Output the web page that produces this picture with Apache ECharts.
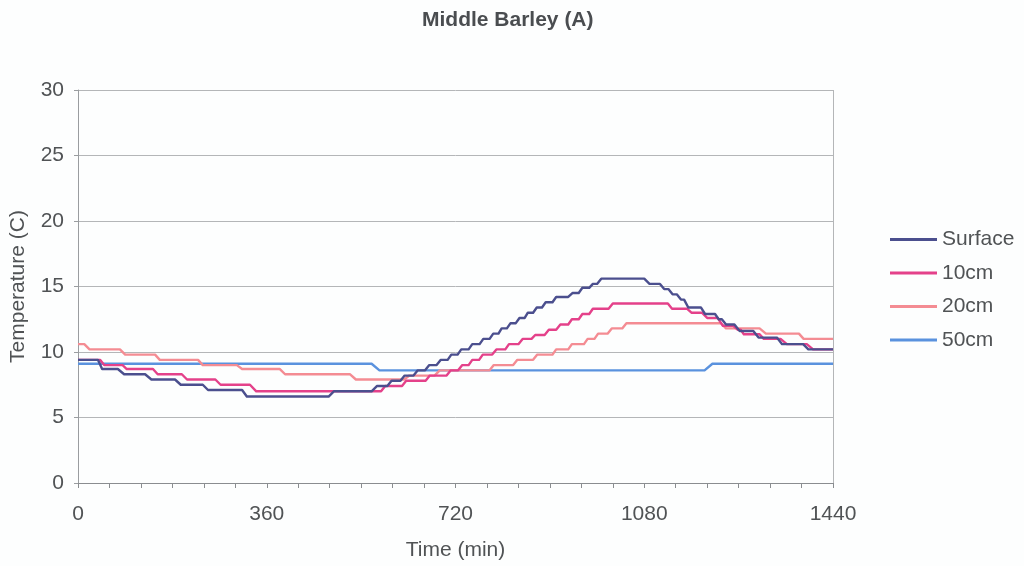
<!DOCTYPE html>
<html>
<head>
<meta charset="utf-8">
<title>Middle Barley (A)</title>
<script src="https://cdn.jsdelivr.net/npm/echarts@6/dist/echarts.min.js"></script>
<style>
  html, body { margin: 0; padding: 0; background: #fdfefe; }
  #chart { width: 1024px; height: 566px; }
</style>
</head>
<body>
<div id="chart"></div>
<script>
// Soil temperature logger readings over one day: [minute, temperature °C].
// Readings are quantised by the logger, so each series is a staircase.
const seriesNames = ['Surface', '10cm', '20cm', '50cm'];

const surfaceReadings = [
  [0, 9.4], [38, 9.4], [46, 8.7], [76, 8.7], [88, 8.3], [128, 8.3], [140, 7.9], [185, 7.9],
  [196, 7.5], [238, 7.5], [248, 7.1], [313, 7.1], [322, 6.6], [478, 6.6], [488, 7.0], [560, 7.0],
  [570, 7.4], [590, 7.4], [598, 7.8], [615, 7.8], [623, 8.2], [640, 8.2], [648, 8.6], [662, 8.6],
  [670, 9.0], [684, 9.0], [692, 9.4], [705, 9.4], [712, 9.8], [724, 9.8], [731, 10.2], [745, 10.2],
  [752, 10.6], [766, 10.6], [773, 11.0], [785, 11.0], [792, 11.4], [802, 11.4], [808, 11.8], [818, 11.8],
  [825, 12.2], [835, 12.2], [842, 12.6], [852, 12.6], [858, 13.0], [868, 13.0], [875, 13.4], [885, 13.4],
  [892, 13.8], [905, 13.8], [912, 14.2], [935, 14.2], [943, 14.5], [955, 14.5], [962, 14.9], [975, 14.9],
  [982, 15.2], [990, 15.2], [998, 15.6], [1080, 15.6], [1090, 15.2], [1110, 15.2], [1118, 14.8], [1126, 14.8],
  [1134, 14.4], [1142, 14.4], [1150, 14.0], [1156, 14.0], [1164, 13.4], [1188, 13.4], [1196, 12.9], [1215, 12.9],
  [1222, 12.5], [1228, 12.5], [1236, 12.1], [1252, 12.1], [1262, 11.6], [1288, 11.6], [1298, 11.1], [1333, 11.1],
  [1343, 10.6], [1383, 10.6], [1393, 10.2], [1440, 10.2]
];

const cm10Readings = [
  [0, 9.4], [42, 9.4], [50, 9.0], [85, 9.0], [93, 8.7], [143, 8.7], [152, 8.3], [198, 8.3],
  [208, 7.9], [262, 7.9], [272, 7.5], [328, 7.5], [340, 7.0], [578, 7.0], [586, 7.4], [618, 7.4],
  [626, 7.8], [663, 7.8], [671, 8.2], [703, 8.2], [711, 8.6], [725, 8.6], [733, 9.0], [745, 9.0],
  [752, 9.4], [765, 9.4], [772, 9.8], [790, 9.8], [798, 10.2], [815, 10.2], [822, 10.6], [840, 10.6],
  [848, 11.0], [865, 11.0], [872, 11.3], [890, 11.3], [898, 11.7], [912, 11.7], [920, 12.1], [935, 12.1],
  [942, 12.5], [955, 12.5], [962, 12.9], [975, 12.9], [982, 13.3], [1012, 13.3], [1020, 13.7], [1125, 13.7],
  [1133, 13.3], [1162, 13.3], [1170, 13.0], [1190, 13.0], [1200, 12.6], [1220, 12.6], [1230, 12.0], [1250, 12.0],
  [1258, 11.7], [1264, 11.7], [1270, 11.35], [1300, 11.35], [1308, 11.0], [1340, 11.0], [1352, 10.6], [1390, 10.6],
  [1402, 10.2], [1440, 10.2]
];

const cm20Readings = [
  [0, 10.6], [12, 10.6], [22, 10.2], [80, 10.2], [90, 9.8], [147, 9.8], [156, 9.4], [229, 9.4],
  [238, 9.0], [303, 9.0], [313, 8.7], [385, 8.7], [395, 8.3], [519, 8.3], [530, 7.9], [622, 7.9],
  [632, 8.2], [680, 8.2], [690, 8.6], [785, 8.6], [793, 9.0], [830, 9.0], [838, 9.4], [868, 9.4],
  [876, 9.8], [905, 9.8], [912, 10.2], [935, 10.2], [942, 10.6], [965, 10.6], [972, 11.0], [985, 11.0],
  [992, 11.4], [1010, 11.4], [1018, 11.8], [1038, 11.8], [1046, 12.2], [1226, 12.2], [1236, 11.8], [1300, 11.8],
  [1312, 11.4], [1375, 11.4], [1384, 11.0], [1440, 11.0]
];

const cm50Readings = [
  [0, 9.1], [560, 9.1], [575, 8.6], [1195, 8.6], [1210, 9.1], [1440, 9.1]
];

const seriesColors = ['#4b4f8e', '#e4418a', '#f48c93', '#5a92de'];
const xTicks = [0, 360, 720, 1080, 1440];
const yTicks = [0, 5, 10, 15, 20, 25, 30];

const chart = echarts.init(document.getElementById('chart'), null, { renderer: 'canvas' });

const baseFont = 'Liberation Sans, Arial, sans-serif';
const textGrey = '#505355';

chart.setOption({
  backgroundColor: '#fdfefe',
  animation: false,
  title: {
    text: 'Middle Barley (A)',
    left: 422,
    top: 10,
    padding: 0,
    textStyle: { fontFamily: baseFont, fontSize: 21, fontWeight: 'bold', color: '#4a4d50' }
  },
  grid: { left: 78, right: 191, top: 90, bottom: 82, show: false },
  legend: {
    orient: 'vertical',
    left: 890,
    top: 229,
    padding: 0,
    itemWidth: 47,
    itemHeight: 3,
    itemGap: 12.5,
    icon: 'rect',
    data: seriesNames,
    textStyle: { fontFamily: baseFont, fontSize: 21, color: textGrey, lineHeight: 21 }
  },
  xAxis: {
    type: 'value',
    min: xTicks[0],
    max: xTicks[xTicks.length - 1],
    interval: xTicks[1] - xTicks[0],
    name: 'Time (min)',
    nameLocation: 'middle',
    nameGap: 57,
    nameTextStyle: { fontFamily: baseFont, fontSize: 21, color: textGrey },
    axisLine: { show: true, lineStyle: { color: '#8a8d90', width: 1 } },
    axisTick: { show: true, length: 5, lineStyle: { color: '#8a8d90' } },
    minorTick: { show: true, splitNumber: 6, length: 5, lineStyle: { color: '#8a8d90' } },
    axisLabel: {
      fontFamily: baseFont, fontSize: 21, color: textGrey, margin: 21,
      formatter: v => String(v)
    },
    splitLine: { show: false }
  },
  yAxis: {
    type: 'value',
    min: yTicks[0],
    max: yTicks[yTicks.length - 1],
    interval: yTicks[1] - yTicks[0],
    name: 'Temperature (C)',
    nameLocation: 'middle',
    nameGap: 49,
    nameTextStyle: { fontFamily: baseFont, fontSize: 21, color: textGrey },
    axisLine: { show: true, lineStyle: { color: '#9a9da0', width: 1 } },
    axisTick: { show: true, length: 4, lineStyle: { color: '#9a9da0' } },
    axisLabel: { fontFamily: baseFont, fontSize: 21, color: textGrey, margin: 14 },
    splitLine: { show: true, lineStyle: { color: '#b4b6b8', width: 1 } }
  },
  series: [
    // right-hand border of the plot area
    {
      type: 'line', silent: true, symbol: 'none', data: [],
      markLine: {
        silent: true, symbol: 'none', label: { show: false },
        lineStyle: { color: '#b4b6b8', type: 'solid', width: 1 },
        data: [{ xAxis: xTicks[xTicks.length - 1] }]
      }
    },
    ...[surfaceReadings, cm10Readings, cm20Readings, cm50Readings].map((d, i) => ({
      name: seriesNames[i],
      type: 'line',
      data: d,
      symbol: 'none',
      z: 10 - i,
      color: seriesColors[i],
      lineStyle: { width: 2.4, color: seriesColors[i], join: 'round' }
    })).reverse()
  ]
});
</script>
</body>
</html>
